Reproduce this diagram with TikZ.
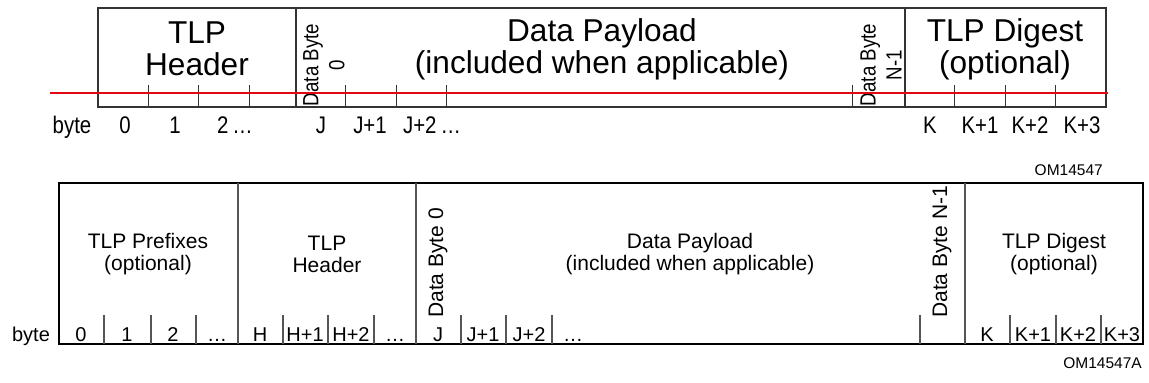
\documentclass[tikz,border=0pt]{standalone}
\usepackage{fontspec}
\setmainfont{Liberation Sans}
\newfontfamily\condfont[FakeStretch=0.85]{Liberation Sans}
\definecolor{rule}{HTML}{E30613}
\definecolor{frame}{HTML}{333333}
\definecolor{divider}{HTML}{555555}

\begin{document}
\begin{tikzpicture}[x=1pt,y=-1pt,every node/.style={inner sep=0pt},
	bigtitle/.style={font=\fontsize{31.6}{32}\selectfont,align=center},
	toplabel/.style={font=\condfont\fontsize{24}{24}\selectfont,anchor=base},
	topvert/.style={font=\condfont\fontsize{22}{26}\selectfont,align=center,rotate=90},
	midtitle/.style={font=\fontsize{21}{22}\selectfont,align=center},
	botlabel/.style={font=\fontsize{20}{20}\selectfont,anchor=base},
	botvert/.style={font=\fontsize{21}{21}\selectfont,rotate=90,anchor=west},
	figno/.style={font=\fontsize{15.5}{16}\selectfont,anchor=base east}]
		\useasboundingbox [fill=white] (0,0) rectangle (1149,383);
		%
		\draw [frame,line width=1.6] (98,8) rectangle (1106,107);
		\draw [frame,line width=1.2] (296,8) -- (296,107) (905,8) -- (905,107);
		\draw [frame,line width=0.9] (148,85) -- (148,107) (198,85) -- (198,107) (249,85) -- (249,107) (345,85) -- (345,107) (396,85) -- (396,107) (446,85) -- (446,107) (852,85) -- (852,107) (954,85) -- (954,107) (1005,85) -- (1005,107) (1055,85) -- (1055,107);
		\node [bigtitle] (hdr) at (197,49) {TLP\\Header};
		\node [bigtitle] (pay) at (602,49) {Data Payload\\(included when applicable)};
		\node [bigtitle] (dig) at (1005,49) {TLP Digest\\(optional)};
		\node [topvert] (dbzero) at (324,65) {Data Byte\\0};
		\node [topvert] (dblast) at (881,65) {Data Byte\\N-1};
		\node [toplabel] (tbyte) at (72,133) {byte};
		\node [toplabel] (tb0) at (125,133) {0};
		\node [toplabel] (tb1) at (175,133) {1};
		\node [toplabel] (tb2) at (235,133) {2\,\ldots};
		\node [toplabel] (tj) at (321,133) {J};
		\node [toplabel] (tj1) at (370,133) {J+1};
		\node [toplabel] (tj2) at (432,133) {J+2\,\ldots};
		\node [toplabel] (tk) at (930,133) {K};
		\node [toplabel] (tk1) at (980,133) {K+1};
		\node [toplabel] (tk2) at (1030,133) {K+2};
		\node [toplabel] (tk3) at (1082,133) {K+3};
		\node [figno] (omtop) at (1103,175) {OM14547};
		\draw [rule,line width=2] (50,93) -- (1108,93);
		%
		\draw [black,line width=2] (59,183) rectangle (1143,344);
		\draw [divider,line width=1.5] (238,183) -- (238,344) (416,183) -- (416,344) (965,183) -- (965,344);
		\draw [divider,line width=1.2] (104,315) -- (104,344) (151,315) -- (151,344) (196,315) -- (196,344) (283,315) -- (283,344) (328,315) -- (328,344) (374,315) -- (374,344) (461,315) -- (461,344) (506,315) -- (506,344) (552,315) -- (552,344) (920,315) -- (920,344) (1010,315) -- (1010,344) (1056,315) -- (1056,344) (1101,315) -- (1101,344);
		\node [midtitle] (pfx) at (148,254) {TLP Prefixes\\(optional)};
		\node [midtitle] (bhdr) at (327,254) {TLP\\Header};
		\node [midtitle] (bpay) at (690,254) {Data Payload\\(included when applicable)};
		\node [midtitle] (bdig) at (1054,254) {TLP Digest\\(optional)};
		\node [botvert] (bdbzero) at (438,318) {Data Byte 0};
		\node [botvert] (bdblast) at (942,318) {Data Byte N-1};
		\node [botlabel] (bbyte) at (31,341) {byte};
		\node [botlabel] (bb0) at (81,341) {0};
		\node [botlabel] (bb1) at (127,341) {1};
		\node [botlabel] (bb2) at (173,341) {2};
		\node [botlabel] (bb3) at (217,341) {\ldots};
		\node [botlabel] (bh) at (260,341) {H};
		\node [botlabel] (bh1) at (305,341) {H+1};
		\node [botlabel] (bh2) at (351,341) {H+2};
		\node [botlabel] (bh3) at (395,341) {\ldots};
		\node [botlabel] (bj) at (438,341) {J};
		\node [botlabel] (bj1) at (483,341) {J+1};
		\node [botlabel] (bj2) at (529,341) {J+2};
		\node [botlabel,anchor=base west] (bj3) at (563,341) {\ldots};
		\node [botlabel] (bk) at (987,341) {K};
		\node [botlabel] (bk1) at (1033,341) {K+1};
		\node [botlabel] (bk2) at (1078,341) {K+2};
		\node [botlabel] (bk3) at (1122,341) {K+3};
		\node [figno] (ombot) at (1142,368) {OM14547A};
	\end{tikzpicture}
\end{document}
